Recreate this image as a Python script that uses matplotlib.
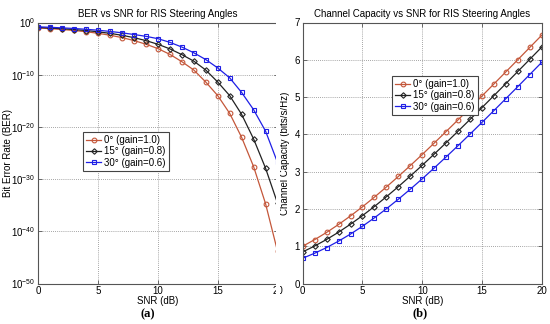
import math
import matplotlib
matplotlib.use("Agg")
import matplotlib.pyplot as plt
from matplotlib.ticker import FixedLocator, FuncFormatter
from matplotlib.patches import Rectangle

plt.rcParams['font.family'] = ['Liberation Sans', 'DejaVu Sans']
plt.rcParams['mathtext.fontset'] = 'custom'
plt.rcParams['mathtext.rm'] = 'Liberation Sans'
plt.rcParams['mathtext.it'] = 'Liberation Sans:italic'
plt.rcParams['mathtext.bf'] = 'Liberation Sans:bold'

# ---------------- data ----------------
snr_db = [0, 1, 2, 3, 4, 5, 6, 7, 8, 9, 10, 11, 12, 13, 14, 15, 16, 17, 18, 19, 20]
labels = ["0° (gain=1.0)", "15° (gain=0.8)", "30° (gain=0.6)"]

# BER values given as log10 exponents
ber_exp_0 = [-1.05, -1.18, -1.34, -1.53, -1.77, -2.07, -2.44, -2.89, -3.46, -4.16, -5.0,
             -6.1, -7.5, -9.1, -11.4, -14.0, -17.4, -22.0, -27.6, -34.7, -43.8]
ber_exp_15 = [-0.95, -1.07, -1.19, -1.35, -1.54, -1.78, -2.08, -2.45, -2.90, -3.47, -4.17,
              -5.05, -6.15, -7.4, -9.1, -11.4, -14.0, -17.6, -22.3, -27.9, -34.6]
ber_exp_30 = [-0.83, -0.92, -1.03, -1.15, -1.30, -1.48, -1.71, -1.98, -2.30, -2.65, -3.1,
              -3.8, -4.7, -5.8, -7.1, -8.7, -10.6, -13.4, -16.7, -20.8, -26.8]

cap_0 = [1.000, 1.176, 1.370, 1.583, 1.812, 2.057, 2.316, 2.588, 2.870, 3.161, 3.459,
         3.765, 4.075, 4.389, 4.707, 5.028, 5.351, 5.676, 6.002, 6.330, 6.658]
cap_15 = [0.848, 1.005, 1.181, 1.376, 1.590, 1.820, 2.065, 2.325, 2.596, 2.879, 3.170,
          3.469, 3.774, 4.084, 4.399, 4.717, 5.038, 5.361, 5.686, 6.012, 6.340]
cap_30 = [0.678, 0.812, 0.964, 1.136, 1.326, 1.535, 1.761, 2.003, 2.259, 2.528, 2.807,
          3.097, 3.394, 3.697, 4.006, 4.320, 4.637, 4.958, 5.280, 5.605, 5.931]

ber_ticks = [0, -10, -20, -30, -40, -50]
x_ticks = [0, 5, 10, 15, 20]
cap_ticks = [0, 1, 2, 3, 4, 5, 6, 7]

# ---------------- style ----------------
colors = ['#c4573a', '#222222', '#1f1fe6']
markers = ['o', 'D', 's']
msizes = [3.4, 2.8, 3.1]

W, H = 550, 324
fig = plt.figure(figsize=(W / 100, H / 100), dpi=100)

def style_axes(ax):
    for s in ax.spines.values():
        s.set_color('#555555')
        s.set_linewidth(0.8)
    ax.tick_params(direction='in', length=3, width=0.6, colors='#555555',
                   labelcolor='black', labelsize=7, pad=2, top=True, right=True)
    ax.grid(True, linestyle=(0, (1, 1.5)), color='#888888', linewidth=0.6)
    ax.minorticks_off()

bottom = (H - 283.5) / H
height = (283.5 - 22.5) / H

# ---- left panel: BER ----
ax1_w = 277.5 - 38.3
ax1 = fig.add_axes([38.3 / W, bottom, ax1_w / W, height])
ber_series = [ber_exp_0, ber_exp_15, ber_exp_30]
for e, c, m, ms, lab in zip(ber_series, colors, markers, msizes, labels):
    ax1.semilogy(snr_db, [10.0 ** v for v in e], color=c, marker=m, markersize=ms,
                 markerfacecolor='none', markeredgewidth=0.8, linewidth=0.9, label=lab)
ax1.set_xlim(0, 20)
ax1.set_ylim(1e-50, 1e0)
ax1.yaxis.set_major_locator(FixedLocator([10.0 ** t for t in ber_ticks]))
ax1.yaxis.set_major_formatter(FuncFormatter(
    lambda v, p: r'$\mathregular{10^{%d}}$' % round(math.log10(v))))
ax1.xaxis.set_major_locator(FixedLocator(x_ticks))
style_axes(ax1)
ax1.yaxis.set_minor_locator(FixedLocator([]))
ax1.set_title("BER vs SNR for RIS Steering Angles", fontsize=7, pad=4)
ax1.set_xlabel("SNR (dB)", fontsize=7, labelpad=0)
ax1.set_ylabel("Bit Error Rate (BER)", fontsize=7)
ax1.yaxis.set_label_coords((13 - 38.3) / ax1_w, 0.5)
leg1 = ax1.legend(loc='upper left', bbox_to_anchor=((83 - 38.3) / ax1_w,
                  (283.5 - 132) / 261.0), fontsize=7, frameon=True, fancybox=False,
                  edgecolor='#444444', framealpha=1, borderpad=0.3, labelspacing=0.15,
                  handlelength=1.6, handletextpad=0.3, borderaxespad=0)
leg1.get_frame().set_linewidth(0.8)

# ---- right panel: capacity ----
ax2_w = 541.7 - 302.7
ax2 = fig.add_axes([302.7 / W, bottom, ax2_w / W, height])
cap_series = [cap_0, cap_15, cap_30]
for v, c, m, ms, lab in zip(cap_series, colors, markers, msizes, labels):
    ax2.plot(snr_db, v, color=c, marker=m, markersize=ms, markerfacecolor='none',
             markeredgewidth=0.8, linewidth=0.9, label=lab)
ax2.set_xlim(0, 20)
ax2.set_ylim(0, 7)
ax2.xaxis.set_major_locator(FixedLocator(x_ticks))
ax2.yaxis.set_major_locator(FixedLocator(cap_ticks))
style_axes(ax2)
ax2.set_title("Channel Capacity vs SNR for RIS Steering Angles", fontsize=7, pad=4)
ax2.set_xlabel("SNR (dB)", fontsize=7, labelpad=0)
ax2.set_ylabel("Channel Capacity (bits/s/Hz)", fontsize=7)
ax2.yaxis.set_label_coords((290.5 - 302.7) / ax2_w, 0.5)
leg2 = ax2.legend(loc='upper left', bbox_to_anchor=((392 - 302.7) / ax2_w,
                  (283.5 - 76) / 261.0), fontsize=7, frameon=True, fancybox=False,
                  edgecolor='#444444', framealpha=1, borderpad=0.3, labelspacing=0.15,
                  handlelength=1.6, handletextpad=0.3, borderaxespad=0)
leg2.get_frame().set_linewidth(0.8)

# the reference image is cut just before the right edge of panel (a)
fig.patches.append(Rectangle((275.5 / W, 0), 4.0 / W, 1, transform=fig.transFigure,
                             facecolor='white', edgecolor='none', zorder=5))

fig.text(148 / W, 1 - 314 / H, "(a)", fontsize=9, fontweight='bold',
         family='Liberation Serif', ha='center', va='center')
fig.text(420 / W, 1 - 313 / H, "(b)", fontsize=9, fontweight='bold',
         family='Liberation Serif', ha='center', va='center')

fig.savefig("out.png", dpi=100)
